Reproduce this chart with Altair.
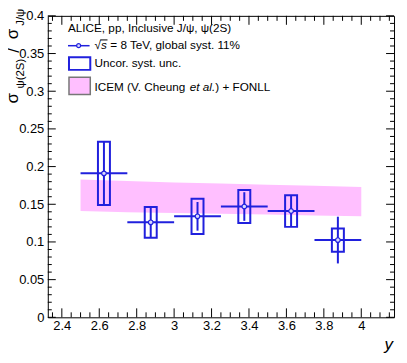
import altair as alt
import pandas as pd

# ---------------- data ----------------
rap = [2.625, 2.875, 3.125, 3.375, 3.625, 3.875]
ratio = [0.191, 0.126, 0.134, 0.147, 0.141, 0.1025]
stat_err = [0.042, 0.0205, 0.019, 0.019, 0.021, 0.031]
syst_err = [0.042, 0.0205, 0.0233, 0.022, 0.021, 0.0155]
bin_half = 0.125
box_half = 0.032

band_x = [2.5, 2.75, 3.0, 3.25, 3.5, 3.75, 4.0]
band_hi = [0.183, 0.181, 0.179, 0.1775, 0.176, 0.1745, 0.173]
band_lo = [0.141, 0.1395, 0.1385, 0.1375, 0.1365, 0.135, 0.134]

x_major = [2.4, 2.6, 2.8, 3.0, 3.2, 3.4, 3.6, 3.8, 4.0]
x_minor = [2.35, 2.45, 2.5, 2.55, 2.65, 2.7, 2.75, 2.85, 2.9, 2.95, 3.05, 3.1, 3.15,
           3.25, 3.3, 3.35, 3.45, 3.5, 3.55, 3.65, 3.7, 3.75, 3.85, 3.9, 3.95, 4.05, 4.1, 4.15]
y_major = [0, 0.05, 0.1, 0.15, 0.2, 0.25, 0.3, 0.35, 0.4]
y_minor = [round(i * 0.01, 2) for i in range(1, 40) if i % 5 != 0]

# ---------------- style ----------------
W, H = 348, 303
FONT = "Liberation Sans"
BLUE = "#2020dd"
PINK = "#ffbfff"
LEG = 11.8

xs = alt.Scale(domain=[2.325, 4.175], nice=False, zero=False)
ys = alt.Scale(domain=[0, 0.4], nice=False, zero=False)
xaxis = alt.Axis(values=x_major, format="~g", title=None, labelPadding=2)
yaxis = alt.Axis(values=y_major, format="~g", title=None, labelPadding=4)


def X(f):
    return alt.X(f, type="quantitative", scale=xs, axis=xaxis)


def Y(f):
    return alt.Y(f, type="quantitative", scale=ys, axis=yaxis)


pts = pd.DataFrame({
    "x": rap,
    "r": ratio,
    "xlo": [v - bin_half for v in rap],
    "xhi": [v + bin_half for v in rap],
    "bx0": [v - box_half for v in rap],
    "bx1": [v + box_half for v in rap],
    "slo": [r - e for r, e in zip(ratio, syst_err)],
    "shi": [r + e for r, e in zip(ratio, syst_err)],
    "tlo": [r - e for r, e in zip(ratio, stat_err)],
    "thi": [r + e for r, e in zip(ratio, stat_err)],
})
band = pd.DataFrame({"x": band_x, "hi": band_hi, "lo": band_lo})
one = pd.DataFrame({"k": [0]})

layers = []
layers.append(alt.Chart(band).mark_area(color=PINK, opacity=1).encode(
    x=X("x"), y=Y("hi"), y2=alt.Y2("lo")))
layers.append(alt.Chart(pts).mark_rect(fill="white", fillOpacity=0, stroke=BLUE, strokeWidth=2).encode(
    x=X("bx0"), x2=alt.X2("bx1"), y=Y("slo"), y2=alt.Y2("shi")))
layers.append(alt.Chart(pts).mark_rule(color=BLUE, strokeWidth=2).encode(
    x=X("x"), y=Y("tlo"), y2=alt.Y2("thi")))
layers.append(alt.Chart(pts).mark_rule(color=BLUE, strokeWidth=2).encode(
    x=X("xlo"), x2=alt.X2("xhi"), y=Y("r")))
layers.append(alt.Chart(pts).mark_point(shape="circle", fill="#d8d8ff", fillOpacity=1, stroke=BLUE,
                                        strokeWidth=1.2, size=22, opacity=1).encode(
    x=X("x"), y=Y("r")))

# ROOT-style inward ticks on all four sides
for vals, ln in ((x_major, 9), (x_minor, 5)):
    d = pd.DataFrame({"v": vals})
    layers.append(alt.Chart(d).mark_rule(color="black", strokeWidth=1).encode(
        x=X("v"), y=alt.value(H), y2=alt.value(H - ln)))
    layers.append(alt.Chart(d).mark_rule(color="black", strokeWidth=1).encode(
        x=X("v"), y=alt.value(0), y2=alt.value(ln)))
for vals, ln in ((y_major, 8), (y_minor, 4)):
    d = pd.DataFrame({"v": vals})
    layers.append(alt.Chart(d).mark_rule(color="black", strokeWidth=1).encode(
        y=Y("v"), x=alt.value(0), x2=alt.value(ln)))
    layers.append(alt.Chart(d).mark_rule(color="black", strokeWidth=1).encode(
        y=Y("v"), x=alt.value(W), x2=alt.value(W - ln)))


def txt(x, y, s, size=LEG, style="normal", align="left", angle=0, baseline="alphabetic"):
    kw = dict(font=FONT, fontSize=size, fontStyle=style, align=align, baseline=baseline, color="black")
    if angle:
        kw["angle"] = angle
    return alt.Chart(one).mark_text(**kw).encode(x=alt.value(x), y=alt.value(y), text=alt.value(s))


# y-axis title with subscripts
layers.append(txt(-29.5, 88, "σ", 17, angle=270))
layers.append(txt(-24, 73, "ψ(2S)", 11.5, angle=270))
layers.append(txt(-29, 37, "/", 17, angle=270))
layers.append(txt(-29.5, 23.5, "σ", 17, angle=270))
layers.append(txt(-24, 10, "J/ψ", 11.5, angle=270))
# x-axis title
layers.append(txt(347, 336, "y", 17, style="italic", align="right"))

# legend
layers.append(txt(20.3, 16, "ALICE, pp, Inclusive J/ψ, ψ(2S)"))
layers.append(alt.Chart(one).mark_rule(color=BLUE, strokeWidth=1.5).encode(
    x=alt.value(20.3), x2=alt.value(42), y=alt.value(30)))
layers.append(alt.Chart(one).mark_point(shape="circle", fill="#d8d8ff", fillOpacity=1, stroke=BLUE,
                                        strokeWidth=1.2, size=16, opacity=1).encode(
    x=alt.value(31), y=alt.value(30)))
layers.append(txt(47, 33.5, "√"))
layers.append(txt(53.6, 33.5, "s", style="italic"))
layers.append(alt.Chart(one).mark_rule(color="black", strokeWidth=1).encode(
    x=alt.value(52.8), x2=alt.value(60), y=alt.value(24.2)))
layers.append(txt(62.8, 33.5, "= 8 TeV, global syst. 11%"))

layers.append(alt.Chart(one).mark_rect(fill="white", fillOpacity=0, stroke=BLUE, strokeWidth=2).encode(
    x=alt.value(21.3), x2=alt.value(42.7), y=alt.value(41.7), y2=alt.value(54.3)))
layers.append(txt(47, 51.7, "Uncor. syst. unc."))

layers.append(alt.Chart(one).mark_rect(fill=PINK, fillOpacity=1, stroke="#777777", strokeWidth=1.5).encode(
    x=alt.value(21.3), x2=alt.value(42.7), y=alt.value(61.7), y2=alt.value(79)))
layers.append(txt(47, 75.7, "ICEM (V. Cheung"))
layers.append(txt(142.7, 75.7, "et al.", style="italic"))
layers.append(txt(168.3, 75.7, ") + FONLL"))

chart = alt.layer(*layers).properties(
    width=W, height=H,
    autosize=alt.AutoSizeParams(type="none"),
    padding={"left": 40, "top": 7, "right": 5, "bottom": 40},
    background="white",
).configure_view(
    stroke="black", strokeWidth=1
).configure_axis(
    labelFont=FONT, labelFontSize=13, labelColor="black",
    ticks=False, tickSize=0, domain=False, grid=False,
)

chart.save("out.html", embed_options={"renderer": "svg", "actions": False})
